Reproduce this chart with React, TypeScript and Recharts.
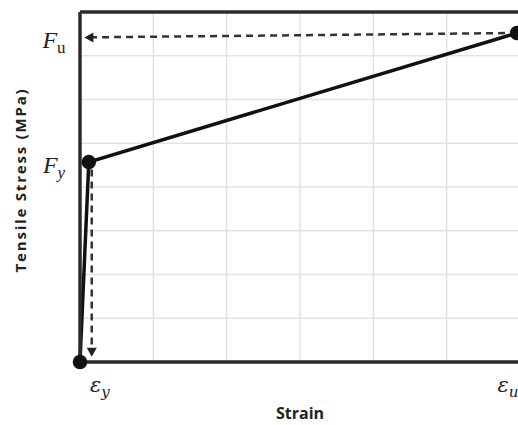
import {
  ComposedChart,
  Line,
  Scatter,
  XAxis,
  YAxis,
  ReferenceLine,
} from "recharts";

// curve points (strain in grid units, stress in grid units)
const strainPts = [0, 0.12, 5.96];
const stressPts = [0, 4.57, 7.52];

// grid lines
const gridX = [1, 2, 3, 4, 5];
const gridY = [1, 2, 3, 4, 5, 6, 7];

// tick labels
const xLabelTicks = [0.27, 5.87];
const xLabelNames = ["y", "u"];
const yLabelTicks = [4.5, 7.36];
const yLabelNames = ["y", "u"];

// dashed guides + arrow tips
const fuGuide = [
  { x: 5.96, y: 7.52 },
  { x: 0.1, y: 7.42 },
];
const fyGuide = [
  { x: 0.16, y: 4.4 },
  { x: 0.16, y: 0.25 },
];
const arrowPts = [
  { x: 0.06, y: 7.42, dir: "left" },
  { x: 0.16, y: 0.12, dir: "down" },
];

const curve = strainPts.map((x, i) => ({ x, y: stressPts[i] }));

const frame = "#2b2b2b";
const gridColor = "#e3e3e3";

const XTick = ({ x, y, payload }: any) => {
  const i = xLabelTicks.indexOf(payload.value);
  return (
    <text
      x={x}
      y={y + 22}
      textAnchor="middle"
      fontFamily="'DejaVu Serif', serif"
      fontStyle="italic"
      fontSize={21}
      fill="#222"
    >
      ε
      <tspan fontSize={15} dy={5}>
        {xLabelNames[i]}
      </tspan>
    </text>
  );
};

const YTick = ({ x, y, payload }: any) => {
  const i = yLabelTicks.indexOf(payload.value);
  return (
    <text
      x={x - 18}
      y={y + 8}
      textAnchor="middle"
      fontFamily="'Liberation Serif', serif"
      fontStyle="italic"
      fontSize={24}
      fill="#222"
    >
      F
      <tspan fontSize={17} dy={5} fontStyle={i === 1 ? "normal" : "italic"}>
        {yLabelNames[i]}
      </tspan>
    </text>
  );
};

const Arrow = (props: any) => {
  const { cx, cy, payload } = props;
  if (payload.dir === "left") {
    return (
      <polygon
        points={`${cx},${cy} ${cx + 9},${cy - 5} ${cx + 9},${cy + 5}`}
        fill="#222"
      />
    );
  }
  return (
    <polygon
      points={`${cx},${cy} ${cx - 5},${cy - 9} ${cx + 5},${cy - 9}`}
      fill="#222"
    />
  );
};

const YLabel = ({ viewBox }: any) => {
  const cy = viewBox.y + viewBox.height / 2 - 7;
  return (
    <text
      x={26}
      y={cy}
      transform={`rotate(-90, 26, ${cy})`}
      textAnchor="middle"
      fontFamily="'Open Sans', sans-serif"
      fontWeight={700}
      fontSize={15}
      letterSpacing={1.8}
      fill="#222"
    >
      Tensile Stress (MPa)
    </text>
  );
};

export default function App() {
  return (
    <div
      style={{
        position: "absolute",
        left: 0,
        top: 0,
        width: 518,
        height: 425,
        overflow: "hidden",
        background: "#fff",
      }}
    >
      <ComposedChart
        width={522}
        height={425}
        margin={{ top: 12, right: 2, bottom: 0, left: 0 }}
      >
        <XAxis
          type="number"
          dataKey="x"
          domain={[0, 6]}
          ticks={xLabelTicks}
          tick={<XTick />}
          tickLine={false}
          axisLine={{ stroke: frame, strokeWidth: 3.5 }}
          height={63}
          label={{
            value: "Strain",
            position: "insideBottom",
            offset: 6,
            fontFamily: "'Open Sans', sans-serif",
            fontWeight: 700,
            fontSize: 16,
            fill: "#222",
          }}
        />
        <YAxis
          type="number"
          dataKey="y"
          domain={[0, 8]}
          ticks={yLabelTicks}
          tick={<YTick />}
          tickLine={false}
          axisLine={{ stroke: frame, strokeWidth: 3.5 }}
          width={80}
          label={<YLabel />}
        />
        {gridX.map((g) => (
          <ReferenceLine
            key={`gx${g}`}
            x={g}
            stroke={gridColor}
            strokeWidth={1.5}
          />
        ))}
        {gridY.map((g) => (
          <ReferenceLine
            key={`gy${g}`}
            y={g}
            stroke={gridColor}
            strokeWidth={1.5}
          />
        ))}
        <ReferenceLine y={8} stroke={frame} strokeWidth={3.5} />
        <ReferenceLine
          segment={fuGuide}
          stroke="#333"
          strokeWidth={2.5}
          strokeDasharray="7 5"
        />
        <ReferenceLine
          segment={fyGuide}
          stroke="#333"
          strokeWidth={2.5}
          strokeDasharray="7 5"
        />
        <Line
          data={curve}
          dataKey="y"
          type="linear"
          stroke="#111"
          strokeWidth={3.5}
          dot={{ r: 5.5, fill: "#111", stroke: "#111" }}
          isAnimationActive={false}
        />
        <Scatter
          data={arrowPts}
          dataKey="y"
          shape={<Arrow />}
          isAnimationActive={false}
        />
      </ComposedChart>
    </div>
  );
}
